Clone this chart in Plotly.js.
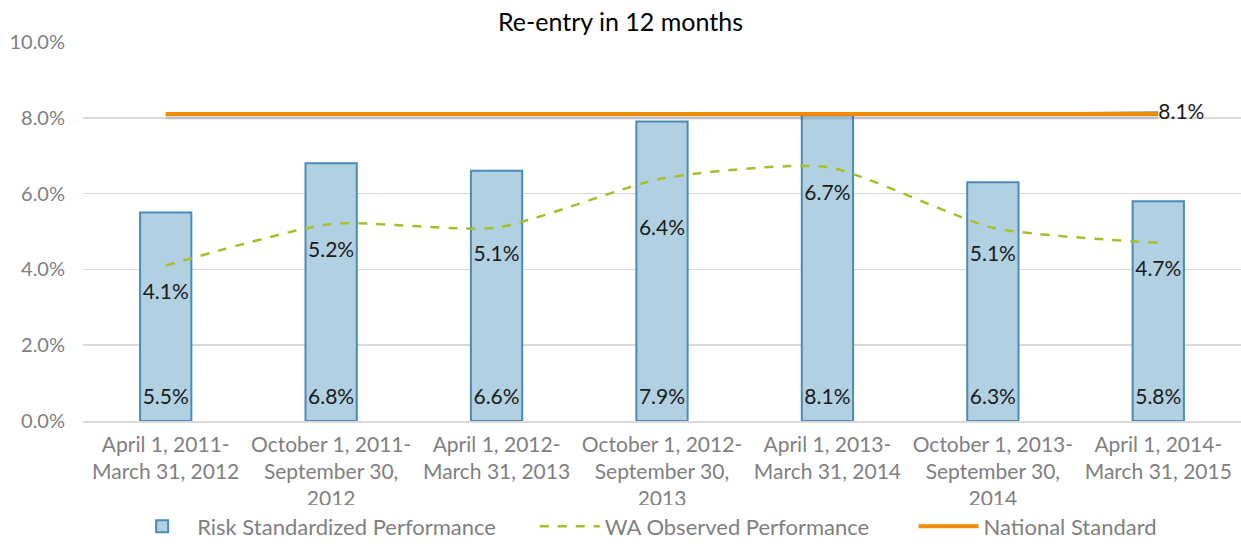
<!DOCTYPE html>
<html>
<head>
<meta charset="utf-8">
<script src="https://cdn.plot.ly/plotly-3.0.1.min.js"></script>
<style>html,body{margin:0;padding:0;background:#fff}#chart{width:1241px;height:544px}</style>
</head>
<body>
<div id="chart"></div>
<script>
const categories = [
  "April 1, 2011-<br>March 31, 2012",
  "October 1, 2011-<br>September 30,<br>2012",
  "April 1, 2012-<br>March 31, 2013",
  "October 1, 2012-<br>September 30,<br>2013",
  "April 1, 2013-<br>March 31, 2014",
  "October 1, 2013-<br>September 30,<br>2014",
  "April 1, 2014-<br>March 31, 2015"
];
const seriesNames = ["Risk Standardized Performance", "WA Observed Performance", "National Standard"];
const riskStandardized = [5.5, 6.8, 6.6, 7.9, 8.1, 6.3, 5.8];
const waObserved = [4.1, 5.2, 5.1, 6.4, 6.7, 5.1, 4.7];
const nationalStandard = [8.1, 8.1, 8.1, 8.1, 8.1, 8.1, 8.1];
const leaderLine = [8.1, 8.15];
const leaderCats = [categories[5], categories[6]];

const fmt = v => v.toFixed(1) + "%";
const font = "Lato, 'Open Sans', sans-serif";
const pad = n => "\u00a0".repeat(n);

const traces = [
  {
    type: "bar", name: seriesNames[0] + pad(6),
    x: categories, y: riskStandardized,
    marker: {color: "#b1d0e2", line: {color: "#4a8bb8", width: 2}},
    width: 0.31,
    hoverinfo: "none"
  },
  {
    type: "scatter", mode: "markers+text", name: "bar labels", showlegend: false,
    x: categories, y: riskStandardized.map(() => 0),
    marker: {size: 18, opacity: 0, color: "rgba(0,0,0,0)", line: {width: 0}},
    text: riskStandardized.map(fmt), textposition: "top center",
    textfont: {family: font, size: 21, color: "#1a1a1a"},
    cliponaxis: false, hoverinfo: "none"
  },
  {
    type: "scatter", mode: "lines", name: "leader", showlegend: false,
    x: leaderCats, y: leaderLine,
    line: {color: "#a6a6a6", width: 2}, hoverinfo: "none"
  },
  {
    type: "scatter", mode: "lines", name: "shadow", showlegend: false,
    x: categories, y: nationalStandard,
    line: {color: "rgba(0,0,0,0.12)", width: 4}, yaxis: "y2", hoverinfo: "none"
  },
  {
    type: "scatter", mode: "lines+markers+text", name: seriesNames[1] + pad(7),
    x: categories, y: waObserved,
    line: {color: "#a5bf2a", width: 2.5, dash: "dash", shape: "spline", smoothing: 0.6},
    marker: {size: [26, 26, 26, 64, 26, 26, 26], opacity: 0, color: "rgba(0,0,0,0)", line: {width: 0, color: "rgba(0,0,0,0)"}},
    text: waObserved.map(fmt), textposition: "bottom center",
    textfont: {family: font, size: 21, color: "#1a1a1a"},
    hoverinfo: "none"
  },
  {
    type: "scatter", mode: "lines+text", name: seriesNames[2],
    x: categories, y: nationalStandard,
    line: {color: "#f28c00", width: 4},
    text: nationalStandard.map((v, i) => i === nationalStandard.length - 1 ? fmt(v) : ""),
    textposition: "middle right",
    textfont: {family: font, size: 21, color: "#1a1a1a"},
    cliponaxis: false,
    hoverinfo: "none"
  }
];

const layout = {
  width: 1241, height: 544,
  margin: {l: 83, r: 0, t: 42, b: 123, autoexpand: false},
  paper_bgcolor: "#fff", plot_bgcolor: "#fff",
  font: {family: font, color: "#808080", size: 20},
  title: {text: "Re-entry in 12 months", font: {family: font, size: 25, color: "#000"}, x: 0.5, xanchor: "center", y: 0.96, yanchor: "middle"},
  showlegend: true,
  legend: {orientation: "h", x: 0.485, xanchor: "center", y: -0.278, yanchor: "middle",
    font: {family: font, size: 22, color: "#7f7f7f"}, itemwidth: 60, tracegroupgap: 0, borderwidth: 0},
  xaxis: {type: "category", showgrid: false, showline: true, linecolor: "#d9d9d9", linewidth: 1.5,
    ticks: "", tickfont: {family: font, size: 21, color: "#808080"}, automargin: false, ticklabelstandoff: 4},
  yaxis: {range: [0, 10], dtick: 2, tickformat: ".1f", ticksuffix: "%", showgrid: true,
    gridcolor: "#d9d9d9", gridwidth: 1.5, zeroline: false, showline: false, ticks: "",
    tickfont: {family: font, size: 20, color: "#808080"}, automargin: false, ticklabelstandoff: 17},
  yaxis2: {range: [0.09, 10.09], overlaying: "y", visible: false, fixedrange: true},
  bargap: 0.69
};

Plotly.newPlot("chart", traces, layout, {displayModeBar: false, staticPlot: true});
</script>
</body>
</html>
